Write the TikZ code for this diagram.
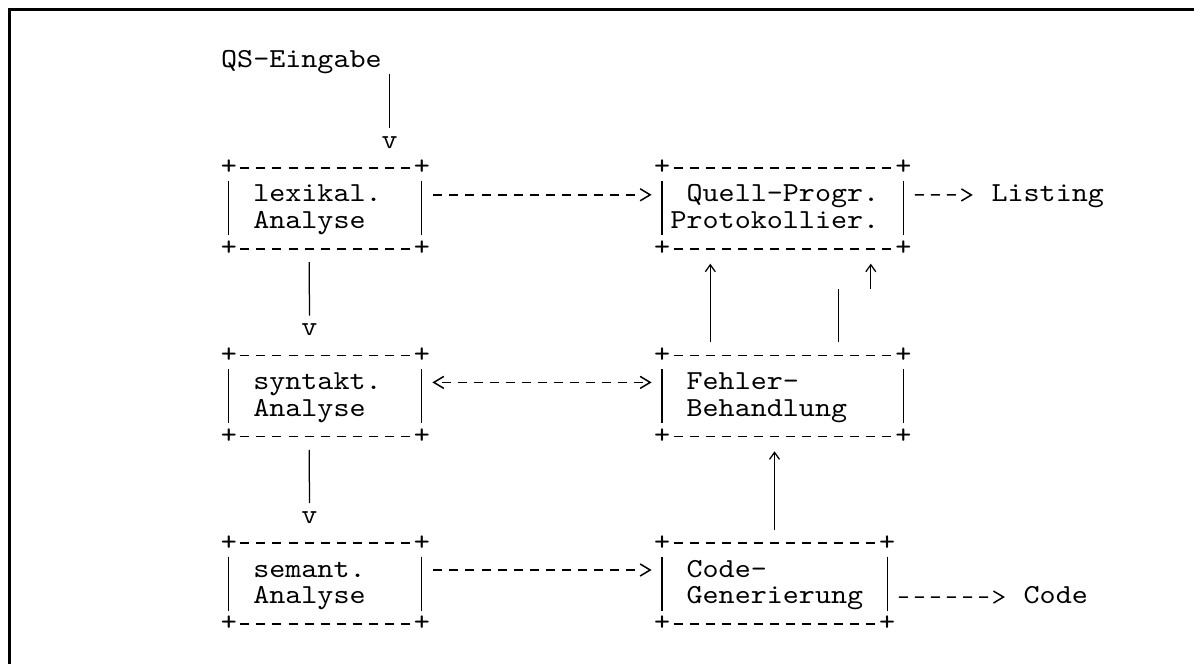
\documentclass[tikz,border=0pt]{standalone}
\usepackage{fontspec}
\newfontfamily\asciifont{lmmono10-regular.otf}[Ligatures=TeXOff, FakeStretch=1.1117]
\usetikzlibrary{arrows.meta}

% a box drawn the typewriter way: "+" corners, dashed top and bottom, solid sides
% #1 name, #2 left column, #3 right column, #4 top row
\newcommand\asciibox[4]{%
  \node[boxframe, minimum width={(#3-#2)*16.05pt}] (#1) at ({(#2+#3)/2},{#4+1.5}) {};
  \draw[hconn, dash pattern=on 9pt off 7.05pt, shorten <=11.55pt, shorten >=11.55pt]
    (#1.north west) -- (#1.north east);
  \draw[hconn, dash pattern=on 9pt off 7.05pt, shorten <=11.55pt, shorten >=11.55pt]
    (#1.south west) -- (#1.south east);
  \draw[side] ([yshift=-13.4pt]#1.north west) -- ([yshift=13.4pt]#1.south west);
  \draw[side] ([yshift=-13.4pt]#1.north east) -- ([yshift=13.4pt]#1.south east);
  \foreach \c in {north west, north east, south west, south east}
    \node[txt, anchor=center] at (#1.\c) {+};
}

\begin{document}
\begin{tikzpicture}[
  txt/.style={font=\asciifont\fontsize{27.5pt}{26.8pt}\selectfont,
    inner sep=0pt, text height=13.8pt, text depth=0pt, anchor=west},
  boxframe/.style={inner sep=0pt, minimum height=80.4pt},
  hconn/.style={line width=1.5pt},
  side/.style={line width=1.35pt},
  gt/.style={-{Straight Barb[length=10pt,width=12pt]}},
  ltgt/.style={{Straight Barb[length=10pt,width=12pt]}-{Straight Barb[length=10pt,width=12pt]}},
  % dash rows: one dash per character cell, nothing under the arrow head
  dash3/.style={dash pattern=on 9pt off 7.05pt on 9pt off 7.05pt on 9pt off 60pt},
  dash6/.style={dash pattern=on 9pt off 7.05pt on 9pt off 7.05pt on 9pt off 7.05pt
    on 9pt off 7.05pt on 9pt off 7.05pt on 9pt off 60pt},
  dash13/.style={dash pattern=on 9pt off 7.05pt on 9pt off 7.05pt on 9pt off 7.05pt
    on 9pt off 7.05pt on 9pt off 7.05pt on 9pt off 7.05pt on 9pt off 7.05pt
    on 9pt off 7.05pt on 9pt off 7.05pt on 9pt off 7.05pt on 9pt off 7.05pt
    on 9pt off 7.05pt on 9pt off 60pt},
  vconn/.style={line width=1.25pt},
  uparr/.style={line width=1.25pt, -{Straight Barb[length=7pt,width=10pt]}, shorten >=1.5pt},
]
% page and frame
\path[use as bounding box] (0pt,0pt) rectangle (1194pt,-664pt);
\draw[line width=2.5pt] (9.5pt,-664pt) -- (9.5pt,-9.5pt) -- (1194pt,-9.5pt);

% character grid: one unit = one column / one text row
\begin{scope}[x=16.05pt, y=-26.8pt, shift={(229pt,-61pt)}]

% input
\node[txt] (qs) at (-0.5,0) {QS-Eingabe};
\node[txt] (qs-v) at (9.5,3) {v};
\draw[vconn] ([yshift=67pt]qs-v.center) -- ([yshift=13.4pt]qs-v.center);

% boxes
\asciibox{lex}{0}{12}{4}
\node[txt] (lex-1) at (1.5,5) {lexikal.};
\node[txt] (lex-2) at (1.5,6) {Analyse};

\asciibox{ql}{27}{42}{4}
\node[txt] (ql-1) at (28.5,5) {Quell-Progr.};
\node[txt] (ql-2) at (27.5,6) {Protokollier.};
\node[txt] (listing) at (47.5,5) {Listing};

\asciibox{syn}{0}{12}{11}
\node[txt] (syn-1) at (1.5,12) {syntakt.};
\node[txt] (syn-2) at (1.5,13) {Analyse};

\asciibox{fe}{27}{42}{11}
\node[txt] (fe-1) at (28.5,12) {Fehler-};
\node[txt] (fe-2) at (28.5,13) {Behandlung};

\asciibox{sem}{0}{12}{18}
\node[txt] (sem-1) at (1.5,19) {semant.};
\node[txt] (sem-2) at (1.5,20) {Analyse};

\asciibox{cg}{27}{41}{18}
\node[txt] (cg-1) at (28.5,19) {Code-};
\node[txt] (cg-2) at (28.5,20) {Generierung};
\node[txt] (code) at (49.5,20) {Code};

% vertical flow on the left
\node[txt] (lex-v) at (4.5,10) {v};
\draw[vconn] ([shift={(-1,0.5)}]lex.south) -- ([yshift=13.4pt]lex-v.center);
\node[txt] (syn-v) at (4.5,17) {v};
\draw[vconn] ([shift={(-1,0.5)}]syn.south) -- ([yshift=13.4pt]syn-v.center);

% dashed arrows between the columns
\draw[hconn, dash13, gt, shorten <=11.55pt, shorten >=10.55pt]
  ([yshift=-26.8pt]lex.north east) -- ([yshift=-26.8pt]ql.north west);
\draw[hconn, dash3, gt, shorten <=11.55pt, shorten >=18.575pt]
  ([yshift=-26.8pt]ql.north east) -- (listing.west);
\draw[hconn, ltgt, dash pattern=on 9pt off 7.05pt, dash phase=9pt,
  shorten <=10.55pt, shorten >=10.55pt]
  ([yshift=-26.8pt]syn.north east) -- ([yshift=-26.8pt]fe.north west);
\draw[hconn, dash13, gt, shorten <=11.55pt, shorten >=10.55pt]
  ([yshift=-26.8pt]sem.north east) -- ([yshift=-26.8pt]cg.north west);
\draw[hconn, dash6, gt, shorten <=11.55pt, shorten >=18.575pt]
  ([yshift=26.8pt]cg.south east) -- (code.west);

% upward arrows on the right
\draw[uparr] ([shift={(3,-0.5)}]fe.north west) -- ([shift={(3,0.5)}]ql.south west);
\draw[uparr] ([shift={(13,1.5)}]ql.south west) -- ([shift={(13,0.5)}]ql.south west);
\draw[vconn] ([shift={(11,-0.5)}]fe.north west) -- ([shift={(11,-2.5)}]fe.north west);
\draw[uparr] ([shift={(7,-0.5)}]cg.north west) -- ([shift={(7,0.5)}]fe.south west);

\end{scope}
\end{tikzpicture}
\end{document}
